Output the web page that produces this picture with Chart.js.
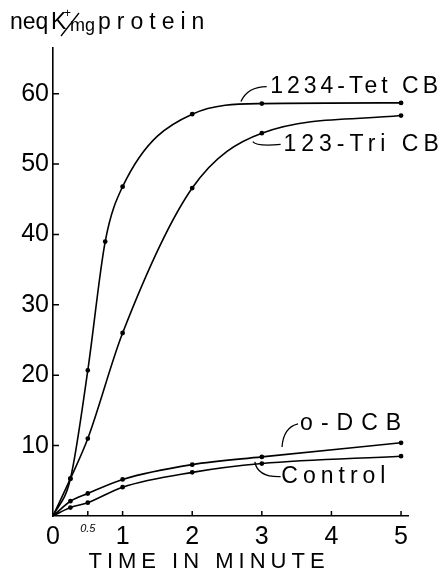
<!DOCTYPE html>
<html>
<head>
<meta charset="utf-8">
<script src="https://cdn.jsdelivr.net/npm/chart.js@4"></script>
<style>
	html, body { margin: 0; padding: 0; background: #fff; }
	#wrap { width: 447px; height: 578px; }
</style>
</head>
<body>
<div id="wrap"><canvas id="k-chart" width="447" height="578"></canvas></div>
<script>
// time in minutes
const tetTimes = [0, 0.25, 0.5, 0.75, 1, 2, 3, 5];
const tetValues = [0, 5.3, 20.7, 39, 46.8, 57.1, 58.6, 58.7];

const triTimes = [0, 0.25, 0.5, 1, 2, 3, 5];
const triValues = [0, 5.3, 11, 26, 46.6, 54.4, 56.9];

const dcbTimes = [0, 0.25, 0.5, 1, 2, 3, 5];
const dcbValues = [0, 2.1, 3.2, 5.2, 7.3, 8.4, 10.4];

const controlTimes = [0, 0.25, 0.5, 1, 2, 3, 5];
const controlValues = [0, 1.2, 1.9, 4.1, 6.2, 7.45, 8.5];

const xTicks = [0, 0.5, 1, 2, 3, 4, 5];
const yTicks = [10, 20, 30, 40, 50, 60];

// curve labels, placed in data units
const labelNames = ['1234-Tet CB', '123-Tri CB', 'o-DCB', 'Control'];
const labelX = [3.12, 3.31, 3.55, 3.28];
const labelY = [61, 52.8, 13.1, 5.6];
// leader hooks: start, control, end (data units)
const leaderFrom = [[2.70, 58.9], [2.87, 53.2], [3.29, 9.8], [2.90, 7.7]];
const leaderCtrl = [[2.80, 61.0], [2.92, 52.5], [3.31, 12.6], [2.94, 5.5]];
const leaderTo = [[3.07, 61.0], [3.27, 52.8], [3.52, 13.1], [3.27, 5.6]];

const FONT = "'Liberation Sans', 'DejaVu Sans', sans-serif";
const labelSpacing = [4, 5, 8, 5];

function toPoints(xs, ys) {
	return xs.map((x, i) => ({ x: x, y: ys[i] }));
}

function series(label, xs, ys) {
	return {
		label: label,
		data: toPoints(xs, ys),
		borderColor: '#000',
		backgroundColor: '#000',
		borderWidth: 1.6,
		pointRadius: 1.6,
		pointHoverRadius: 1.6,
		cubicInterpolationMode: 'monotone'
	};
}

const decorPlugin = {
	id: 'decor',
	afterDraw: (chart) => {
		const { ctx, scales: { x, y } } = chart;
		ctx.save();
		ctx.strokeStyle = '#000';
		ctx.fillStyle = '#000';
		ctx.lineWidth = 1.5;

		// inward tick marks
		ctx.beginPath();
		yTicks.forEach(v => {
			const py = y.getPixelForValue(v);
			ctx.moveTo(x.left, py);
			ctx.lineTo(x.left + 6, py);
		});
		xTicks.forEach(v => {
			if (v === 0) return;
			const px = x.getPixelForValue(v);
			ctx.moveTo(px, y.bottom);
			ctx.lineTo(px, y.bottom - 5);
		});
		ctx.stroke();

		// leader hooks
		ctx.lineWidth = 1.3;
		for (let i = 0; i < labelNames.length; i++) {
			ctx.beginPath();
			ctx.moveTo(x.getPixelForValue(leaderFrom[i][0]), y.getPixelForValue(leaderFrom[i][1]));
			ctx.quadraticCurveTo(
				x.getPixelForValue(leaderCtrl[i][0]), y.getPixelForValue(leaderCtrl[i][1]),
				x.getPixelForValue(leaderTo[i][0]), y.getPixelForValue(leaderTo[i][1]));
			ctx.stroke();
		}

		// curve labels
		ctx.font = '23px ' + FONT;
		ctx.textBaseline = 'middle';
		ctx.textAlign = 'left';
		for (let i = 0; i < labelNames.length; i++) {
			ctx.letterSpacing = labelSpacing[i] + 'px';
			ctx.fillText(labelNames[i], x.getPixelForValue(labelX[i]), y.getPixelForValue(labelY[i]));
		}

		// x axis title
		ctx.font = '22px ' + FONT;
		ctx.letterSpacing = '5px';
		ctx.textAlign = 'center';
		ctx.fillText('TIME IN MINUTE', 209, 562);

		// y axis title
		ctx.textAlign = 'left';
		ctx.textBaseline = 'alphabetic';
		ctx.font = '23px ' + FONT;
		ctx.letterSpacing = '0px';
		ctx.fillText('neq', 10, 29);
		ctx.fillText('K', 51, 29);
		ctx.font = '12px ' + FONT;
		ctx.fillText('+', 64, 17);
		ctx.lineWidth = 1.3;
		ctx.beginPath();
		ctx.moveTo(61, 36);
		ctx.lineTo(79, 13);
		ctx.stroke();
		ctx.font = '18px ' + FONT;
		ctx.fillText('mg', 70, 31);
		ctx.font = '23px ' + FONT;
		ctx.letterSpacing = '6px';
		ctx.fillText('protein', 98, 29);
		ctx.restore();
	}
};

new Chart(document.getElementById('k-chart'), {
	type: 'line',
	data: {
		datasets: [
			series('1234-Tet CB', tetTimes, tetValues),
			series('123-Tri CB', triTimes, triValues),
			series('o-DCB', dcbTimes, dcbValues),
			series('Control', controlTimes, controlValues)
		]
	},
	options: {
		responsive: false,
		animation: false,
		events: [],
		layout: {
			padding: { top: 48, right: 39, left: 0, bottom: 0 }
		},
		plugins: {
			legend: { display: false },
			tooltip: { enabled: false }
		},
		scales: {
			x: {
				type: 'linear',
				min: 0,
				max: 5.1,
				afterBuildTicks: (scale) => {
					scale.ticks = xTicks.map(v => ({ value: v }));
				},
				afterFit: (scale) => {
					scale.height = 62;
				},
				grid: { display: false, drawTicks: false },
				border: { display: true, color: '#000', width: 1.6 },
				ticks: {
					color: '#000',
					padding: 6,
					maxRotation: 0,
					autoSkip: false,
					font: (c) => c.tick && c.tick.value === 0.5
						? { family: FONT, size: 11, style: 'italic' }
						: { family: FONT, size: 25 },
					callback: (v) => v === 0.5 ? '0.5' : String(v)
				}
			},
			y: {
				type: 'linear',
				min: 0,
				max: 66.5,
				afterBuildTicks: (scale) => {
					scale.ticks = yTicks.map(v => ({ value: v }));
				},
				afterFit: (scale) => {
					scale.width = 53;
				},
				grid: { display: false, drawTicks: false },
				border: { display: true, color: '#000', width: 1.6 },
				ticks: {
					color: '#000',
					padding: 4,
					font: { family: FONT, size: 25 }
				}
			}
		}
	},
	plugins: [decorPlugin]
});
</script>
</body>
</html>
